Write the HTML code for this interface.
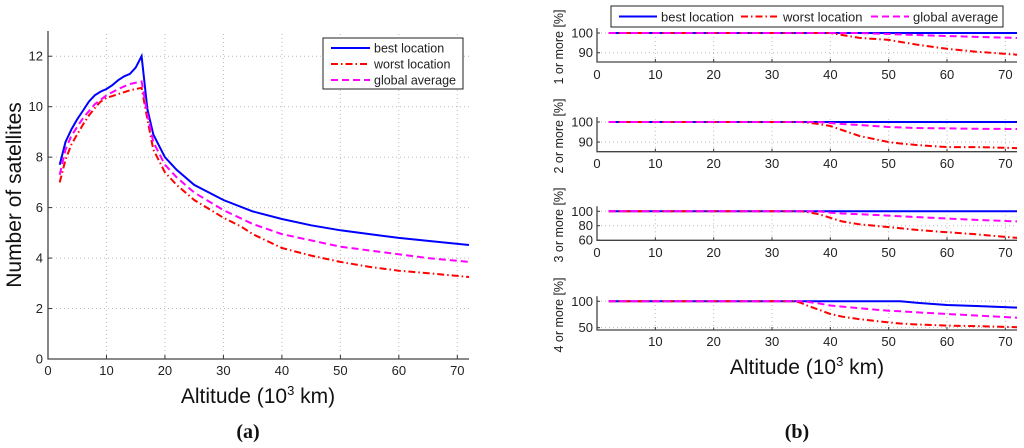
<!DOCTYPE html>
<html><head><meta charset="utf-8"><style>
body{margin:0;background:#fff;}
svg{display:block;font-family:"Liberation Sans",sans-serif;}
</style></head><body>
<svg id="c" width="1024" height="448" xmlns="http://www.w3.org/2000/svg"></svg>
<script>
// ---- Panel (a) data ----
const aBestX=[2,3,4,5,6,7,8,9,10,11,12,13,14,15,16,17,18,20,22,25,30,35,40,45,50,55,60,65,72];
const aBestY=[7.7,8.6,9.1,9.5,9.85,10.2,10.45,10.6,10.7,10.85,11.05,11.2,11.3,11.55,12,9.9,8.9,8.0,7.5,6.9,6.3,5.85,5.55,5.3,5.1,4.95,4.8,4.68,4.52];
const aWorstX=[2,3,4,5,6,7,8,9,10,12,14,16,17,18,20,22,25,30,33,35,40,45,50,55,60,65,72];
const aWorstY=[7.0,7.9,8.5,8.9,9.3,9.65,9.95,10.2,10.35,10.5,10.65,10.75,9.5,8.3,7.4,6.9,6.3,5.6,5.25,4.95,4.4,4.1,3.85,3.65,3.5,3.4,3.25];
const aAvgX=[2,3,4,6,8,10,12,14,16,17,18,20,22,25,30,35,40,45,50,55,60,65,72];
const aAvgY=[7.3,8.3,8.85,9.55,10.1,10.45,10.7,10.9,11.0,9.7,8.6,7.7,7.2,6.6,5.9,5.35,4.95,4.7,4.45,4.3,4.15,4.0,3.85];
const aXTicks=[0,10,20,30,40,50,60,70];
const aYTicks=[0,2,4,6,8,10,12];
// ---- Panel (b) data ----
const bX=[2,34,35,36,38,40,42,45,50,52,55,60,65,72];
const b1Best=[100,100,100,100,100,100,100,100,100,100,100,100,100,100];
const b1Worst=[100,100,100,100,100,100,99,97.5,96.5,95.5,94,92,90.5,89];
const b1Avg=[100,100,100,100,100,100,100,100,99.5,99.3,99,98.5,98,97.5];
const b2Best=[100,100,100,100,100,100,100,100,100,100,100,100,100,100];
const b2Worst=[100,100,100,99.7,99,98,96,93,90,89.3,88.5,87.5,87.5,87];
const b2Avg=[100,100,100,100,100,99.5,99,98.5,97.5,97.3,97,96.8,96.6,96.5];
const b3Best=[100,100,100,100,100,100,100,100,100,100,100,100,100,100];
const b3Worst=[100,100,100,99,96,91,86,82,78,76.5,74,71,68,63];
const b3Avg=[100,100,100,100,100,98,97,96,94,93,92,90,88,86];
const b4Best=[100,100,100,100,100,100,100,100,100,100,97,93,91,88];
const b4Worst=[100,100,97,92,84,76,71,66,60,58,56,54,53,51];
const b4Avg=[100,100,100,99,96,92,90,87,82,81,79,76,73,69];
const b1Ticks=[90,100], b2Ticks=[90,100], b3Ticks=[60,80,100], b4Ticks=[50,100];
const bXTicks=[0,10,20,30,40,50,60,70];
const bYLabels=["1 or more [%]","2 or more [%]","3 or more [%]","4 or more [%]"];

const svg=document.getElementById('c');
const NS="http://www.w3.org/2000/svg";
function mk(tag,attrs,parent){const e=document.createElementNS(NS,tag);for(const k in attrs)e.setAttribute(k,attrs[k]);(parent||svg).appendChild(e);return e;}
const STY={best:{stroke:'#0000ff',da:'none'},worst:{stroke:'#ff0000',da:'7 3 1.5 3'},avg:{stroke:'#ff00ff',da:'7 4'}};
function series(xs,ys,sx,sy,kind,name){
  const d=xs.map((x,i)=>(i?'L':'M')+sx(x).toFixed(1)+' '+sy(ys[i]).toFixed(1)).join(' ');
  const p=mk('path',{d:d,fill:'none',stroke:STY[kind].stroke,'stroke-width':2,'stroke-dasharray':STY[kind].da});
  
  
}
function text(x,y,s,attrs,name){const t=mk('text',Object.assign({x:x,y:y},attrs||{}));t.textContent=s;return t;}

// ---- Panel (a) ----
{
const L=48,R=469,Y0=359,Y1=31;
const sx=v=>L+(v-0)/72*(R-L);
const sy=v=>Y0-(v/13)*(Y0-Y1);
aXTicks.forEach(v=>{
  if(v>0){const g=mk('line',{x1:sx(v),x2:sx(v),y1:Y0,y2:Y1,stroke:'#bbb','stroke-dasharray':'1 3'});}
  mk('line',{x1:sx(v),x2:sx(v),y1:Y0,y2:Y0-4,stroke:'#333'});
  text(sx(v),375,String(v),{'font-size':13,'text-anchor':'middle',fill:'#222'},'x-tick-label');
});
aYTicks.forEach(v=>{
  if(v>0){const g=mk('line',{x1:L,x2:R,y1:sy(v),y2:sy(v),stroke:'#bbb','stroke-dasharray':'1 3'});}
  mk('line',{x1:L,x2:L+4,y1:sy(v),y2:sy(v),stroke:'#333'});
  text(43,sy(v)+4.5,String(v),{'font-size':13,'text-anchor':'end',fill:'#222'},'y-tick-label');
});
const ax=mk('path',{d:`M${L} ${Y1} L${L} ${Y0} L${R} ${Y0}`,fill:'none',stroke:'#444','stroke-width':1.3});

series(aBestX,aBestY,sx,sy,'best','series-best-location-a');
series(aWorstX,aWorstY,sx,sy,'worst','series-worst-location-a');
series(aAvgX,aAvgY,sx,sy,'avg','series-global-average-a');
const lg=mk('g',{});
mk('rect',{x:323,y:38,width:140,height:51,fill:'#fff',stroke:'#222','stroke-width':1},lg);
[['best','best location'],['worst','worst location'],['avg','global average']].forEach((e,i)=>{
  const y=48+i*16;
  mk('line',{x1:331,x2:370,y1:y,y2:y,stroke:STY[e[0]].stroke,'stroke-width':2,'stroke-dasharray':STY[e[0]].da},lg);
  const t=mk('text',{x:374,y:y+4.5,'font-size':12.5,fill:'#222'},lg);t.textContent=e[1];
  
});
text(0,0,'Number of satellites',{'font-size':21,'text-anchor':'middle',fill:'#111',transform:'translate(21,195) rotate(-90)'},'y-axis-title-a');
const xt=text(258,403,'',{'font-size':21,'text-anchor':'middle',fill:'#111'},'x-axis-title-a');
xt.innerHTML='Altitude (10<tspan dy="-8" font-size="13">3</tspan><tspan dy="8"> km)</tspan>';
text(248,438,'(a)',{'font-size':20,'font-weight':'bold','text-anchor':'middle','font-family':'Liberation Serif, serif',fill:'#111'},'caption-a');
}

// ---- Panel (b) ----
{
const L=597,R=1017;
const sx=v=>L+v/72*(R-L);
const panels=[
 {top:33,bot:62,ymin:85.3,ymax:100,ticks:b1Ticks,lab:74,best:b1Best,worst:b1Worst,avg:b1Avg,x0:true,yc:47},
 {top:122,bot:151.7,ymin:85.2,ymax:100,ticks:b2Ticks,lab:163,best:b2Best,worst:b2Worst,avg:b2Avg,x0:true,yc:136},
 {top:211.3,bot:240.3,ymin:59.7,ymax:100,ticks:b3Ticks,lab:252,best:b3Best,worst:b3Worst,avg:b3Avg,x0:true,yc:225},
 {top:301.3,bot:330,ymin:45.6,ymax:100,ticks:b4Ticks,lab:341,best:b4Best,worst:b4Worst,avg:b4Avg,x0:false,yc:315}];
panels.forEach((p,i)=>{
  const sy=v=>p.bot-(v-p.ymin)/(p.ymax-p.ymin)*(p.bot-p.top);
  const g=mk('g',{});
  bXTicks.forEach(v=>{
    if(v>0) mk('line',{x1:sx(v),x2:sx(v),y1:p.bot,y2:p.top-3,stroke:'#bbb','stroke-dasharray':'1 3'},g);
    mk('line',{x1:sx(v),x2:sx(v),y1:p.bot,y2:p.bot-3,stroke:'#333'},g);
    if(v>0||p.x0) text(sx(v),p.lab+5,String(v),{'font-size':13,'text-anchor':'middle',fill:'#222'},'x-tick-label');
  });
  p.ticks.forEach(v=>{
    mk('line',{x1:L,x2:R,y1:sy(v),y2:sy(v),stroke:'#bbb','stroke-dasharray':'1 3'},g);
    mk('line',{x1:L,x2:L+3,y1:sy(v),y2:sy(v),stroke:'#333'},g);
    text(L-4,sy(v)+4.5,String(v),{'font-size':13,'text-anchor':'end',fill:'#222'},'y-tick-label');
  });
  mk('path',{d:`M${L} ${p.top-5} L${L} ${p.bot} L${R} ${p.bot}`,fill:'none',stroke:'#444','stroke-width':1.3},g);
  series(bX,p.best,sx,sy,'best','series-best-location-'+(i+1));
  series(bX,p.worst,sx,sy,'worst','series-worst-location-'+(i+1));
  series(bX,p.avg,sx,sy,'avg','series-global-average-'+(i+1));
  text(0,0,bYLabels[i],{'font-size':12.5,'text-anchor':'middle',fill:'#222',transform:`translate(${563},${p.yc}) rotate(-90)`},'y-axis-title-'+(i+1));
});
const lg=mk('g',{});
mk('rect',{x:611,y:6,width:392,height:21,fill:'#fff',stroke:'#222','stroke-width':1},lg);
[['best','best location',619],['worst','worst location',741],['avg','global average',871]].forEach(e=>{
  mk('line',{x1:e[2],x2:e[2]+38,y1:16.5,y2:16.5,stroke:STY[e[0]].stroke,'stroke-width':2,'stroke-dasharray':STY[e[0]].da},lg);
  const t=mk('text',{x:e[2]+42,y:21.5,'font-size':13,fill:'#222'},lg);t.textContent=e[1];
  
});
const xt=text(807,374,'',{'font-size':21,'text-anchor':'middle',fill:'#111'},'x-axis-title-b');
xt.innerHTML='Altitude (10<tspan dy="-8" font-size="13">3</tspan><tspan dy="8"> km)</tspan>';
text(797,438,'(b)',{'font-size':20,'font-weight':'bold','text-anchor':'middle','font-family':'Liberation Serif, serif',fill:'#111'},'caption-b');
}
</script>
</body></html>
